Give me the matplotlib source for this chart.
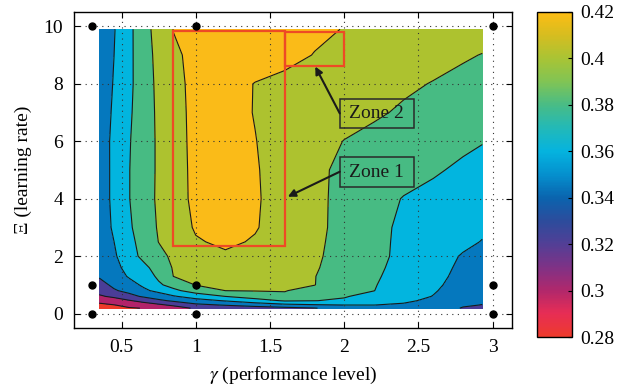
import numpy as np
import matplotlib
matplotlib.use("Agg")
import matplotlib.pyplot as plt
from matplotlib.colors import LinearSegmentedColormap, Normalize
from matplotlib.cm import ScalarMappable
from matplotlib.patches import Rectangle

plt.rcParams['font.family'] = ['Liberation Serif', 'DejaVu Serif']
plt.rcParams['mathtext.fontset'] = 'stix'

# Grid of the surface (gamma across, xi up)
gamma = [0.35, 0.45, 0.55, 0.65, 0.75, 0.85, 1.0, 1.2, 1.4, 1.6, 1.8, 2.0, 2.2, 2.4, 2.6, 2.8, 2.93]
xi = [0.19, 0.3, 0.45, 0.6, 0.8, 1.0, 1.3, 1.6, 2.0, 2.5, 3.0, 4.0, 5.0, 6.0, 7.0, 8.0, 9.0, 9.9]

# One row per xi value
accuracy = [
    [0.281, 0.2885, 0.2886, 0.2905, 0.2914, 0.2993, 0.3133, 0.3167, 0.3208, 0.3246, 0.329, 0.3389, 0.3448, 0.3455, 0.3425, 0.3285, 0.3255],
    [0.286, 0.2895, 0.2952, 0.3005, 0.306, 0.314, 0.3256, 0.3313, 0.3377, 0.3445, 0.3482, 0.3501, 0.3501, 0.3482, 0.3445, 0.3325, 0.3295],
    [0.2956, 0.3017, 0.3083, 0.3163, 0.326, 0.333, 0.3422, 0.3513, 0.3617, 0.3719, 0.3703, 0.3678, 0.3571, 0.3525, 0.347, 0.3365, 0.3335],
    [0.3076, 0.3133, 0.3237, 0.3328, 0.34, 0.348, 0.3589, 0.3701, 0.3791, 0.3862, 0.3754, 0.3712, 0.3643, 0.3565, 0.3495, 0.3395, 0.3365],
    [0.316, 0.328, 0.3354, 0.3466, 0.3548, 0.3657, 0.3787, 0.3901, 0.3908, 0.3909, 0.3822, 0.3731, 0.3703, 0.3595, 0.3515, 0.342, 0.339],
    [0.323, 0.334, 0.3431, 0.3531, 0.367, 0.377, 0.3906, 0.3929, 0.393, 0.3921, 0.3905, 0.375, 0.371, 0.3618, 0.353, 0.3438, 0.341],
    [0.3318, 0.3404, 0.3518, 0.3592, 0.3737, 0.3902, 0.3933, 0.3973, 0.3961, 0.3938, 0.3906, 0.3778, 0.3722, 0.3635, 0.3547, 0.3455, 0.3428],
    [0.334, 0.3443, 0.3561, 0.3653, 0.3781, 0.3915, 0.3959, 0.4017, 0.3992, 0.3956, 0.392, 0.3806, 0.3733, 0.3647, 0.3556, 0.347, 0.3443],
    [0.3355, 0.3473, 0.362, 0.375, 0.385, 0.3933, 0.3994, 0.4076, 0.4035, 0.3979, 0.3923, 0.3843, 0.3748, 0.3657, 0.3572, 0.3487, 0.346],
    [0.3365, 0.35, 0.3643, 0.3777, 0.3903, 0.3963, 0.4085, 0.413, 0.4085, 0.4002, 0.3932, 0.3845, 0.3745, 0.3665, 0.36, 0.3535, 0.3494],
    [0.3386, 0.3529, 0.3671, 0.38, 0.3917, 0.4004, 0.4118, 0.4145, 0.4112, 0.402, 0.394, 0.3849, 0.3746, 0.367, 0.3616, 0.3562, 0.3527],
    [0.3396, 0.3544, 0.3693, 0.3815, 0.3931, 0.4033, 0.4135, 0.4165, 0.4118, 0.4029, 0.394, 0.3853, 0.3768, 0.3692, 0.3652, 0.3613, 0.3587],
    [0.3396, 0.3544, 0.3693, 0.3812, 0.3928, 0.4039, 0.4135, 0.4165, 0.4114, 0.4023, 0.3932, 0.3868, 0.3818, 0.3769, 0.372, 0.367, 0.3638],
    [0.340, 0.3543, 0.3686, 0.3809, 0.3929, 0.4047, 0.4135, 0.416, 0.4104, 0.4033, 0.3963, 0.3896, 0.3856, 0.3815, 0.3775, 0.3735, 0.3708],
    [0.3386, 0.3529, 0.3671, 0.3807, 0.3935, 0.4053, 0.4135, 0.4155, 0.4094, 0.4051, 0.4008, 0.3965, 0.3922, 0.3879, 0.3838, 0.3797, 0.377],
    [0.337, 0.3514, 0.3657, 0.3808, 0.3944, 0.4056, 0.414, 0.416, 0.4095, 0.4061, 0.4028, 0.3994, 0.3961, 0.3927, 0.3893, 0.3856, 0.3832],
    [0.333, 0.35, 0.3654, 0.3817, 0.3956, 0.4067, 0.415, 0.419, 0.418, 0.4145, 0.4095, 0.4061, 0.4025, 0.3989, 0.3954, 0.3918, 0.3895],
    [0.334, 0.349, 0.365, 0.383, 0.3975, 0.4105, 0.417, 0.42, 0.419, 0.4165, 0.413, 0.4095, 0.406, 0.403, 0.40, 0.398, 0.397],
]

# Contour bands and their fill colours
levels = [0.28, 0.29, 0.31, 0.33, 0.35, 0.37, 0.39, 0.41, 0.42]
bandColors = ['#EE3A2A', '#B2236A', '#4A3D97', '#0578BE', '#02B5DF', '#47BB83', '#ADC22F', '#FABB18']

# Colour bar gradient
cbarValues = [0.28, 0.29, 0.30, 0.31, 0.32, 0.33, 0.34, 0.35, 0.36, 0.37, 0.38, 0.39, 0.40, 0.41, 0.42]
cbarColors = ['#EE3B2D', '#E72D55', '#B0286C', '#7E3286', '#523F96', '#2C4C9C', '#0A64AE', '#0590CE',
              '#05B3DF', '#22B9B8', '#48BC86', '#80C455', '#A8C435', '#D5BD20', '#FDBD14']
cbarTicks = [0.28, 0.30, 0.32, 0.34, 0.36, 0.38, 0.40, 0.42]
cbarLabels = ['0.28', '0.3', '0.32', '0.34', '0.36', '0.38', '0.4', '0.42']

# Sampled points shown as black dots
sampleGamma = [0.3, 0.3, 0.3, 1.0, 1.0, 1.0, 3.0, 3.0, 3.0]
sampleXi = [0.0, 1.0, 10.0, 0.0, 1.0, 10.0, 0.0, 1.0, 10.0]

xTicks = [0.5, 1.0, 1.5, 2.0, 2.5, 3.0]
xTickLabels = ['0.5', '1', '1.5', '2', '2.5', '3']
yTicks = [0, 2, 4, 6, 8, 10]

fig = plt.figure(figsize=(6.32, 3.92), dpi=100)
ax = fig.add_axes([0.1171, 0.1633, 0.6930, 0.8061])

G, X = np.meshgrid(gamma, xi)
Z = np.array(accuracy)
ax.contourf(G, X, Z, levels=levels, colors=bandColors, zorder=1)
ax.contour(G, X, Z, levels=levels[1:-1], colors='#1a1a1a', linewidths=0.8, zorder=2)

ax.plot(sampleGamma, sampleXi, 'o', color='black', markersize=5, zorder=5, clip_on=False)

# Zone rectangles
ax.add_patch(Rectangle((0.85, 2.35), 0.75, 7.5, fill=False, edgecolor='#EE4A25', linewidth=1.6, zorder=4))
ax.add_patch(Rectangle((1.6, 8.62), 0.4, 1.2, fill=False, edgecolor='#EE4A25', linewidth=1.6, zorder=4))

# Labels with arrows
for label, (bx, by), start, end in [('Zone 2', (1.97, 6.45), (1.97, 6.97), (1.805, 8.6)),
                                    ('Zone 1', (1.97, 4.42), (1.97, 4.94), (1.62, 4.07))]:
    ax.add_patch(Rectangle((bx, by), 0.5, 1.03, fill=False, edgecolor='#2a2a2a', linewidth=1.1, zorder=4))
    ax.text(bx + 0.25, by + 0.5, label, ha='center', va='center', fontsize=14, color='#1a1a1a', zorder=6)
    ax.annotate('', xy=end, xytext=start,
                arrowprops=dict(arrowstyle='-|>', color='#1a1a1a', lw=1.5, mutation_scale=11,
                                shrinkA=0, shrinkB=0), zorder=6)

ax.set_xlim(0.18, 3.13)
ax.set_ylim(-0.5, 10.5)
ax.set_xticks(xTicks)
ax.set_xticklabels(xTickLabels)
ax.set_yticks(yTicks)
ax.set_axisbelow(False)
ax.grid(True, linestyle=(0, (1, 4)), color='#333333', linewidth=0.8)
ax.tick_params(direction='in', length=4, width=0.8, top=True, right=True, labelsize=14, pad=8)
for spine in ax.spines.values():
    spine.set_linewidth(1.0)

ax.set_xlabel(r'$\gamma$ (performance level)', fontsize=14, labelpad=6)
ax.set_ylabel('Ξ (learning rate)', fontsize=14, labelpad=8)

# Colour bar
cax = fig.add_axes([0.8497, 0.1403, 0.0554, 0.8291])
cbarPos = np.linspace(0.0, 1.0, len(cbarValues))
cmap = LinearSegmentedColormap.from_list('acc', list(zip(cbarPos, cbarColors)))
sm = ScalarMappable(norm=Normalize(cbarValues[0], cbarValues[-1]), cmap=cmap)
cbar = fig.colorbar(sm, cax=cax)
cbar.set_ticks(cbarTicks)
cbar.set_ticklabels(cbarLabels)
cbar.ax.tick_params(direction='in', length=3, width=0.8, labelsize=14, pad=6)
cbar.outline.set_linewidth(1.0)

fig.savefig('out.png', dpi=100)
